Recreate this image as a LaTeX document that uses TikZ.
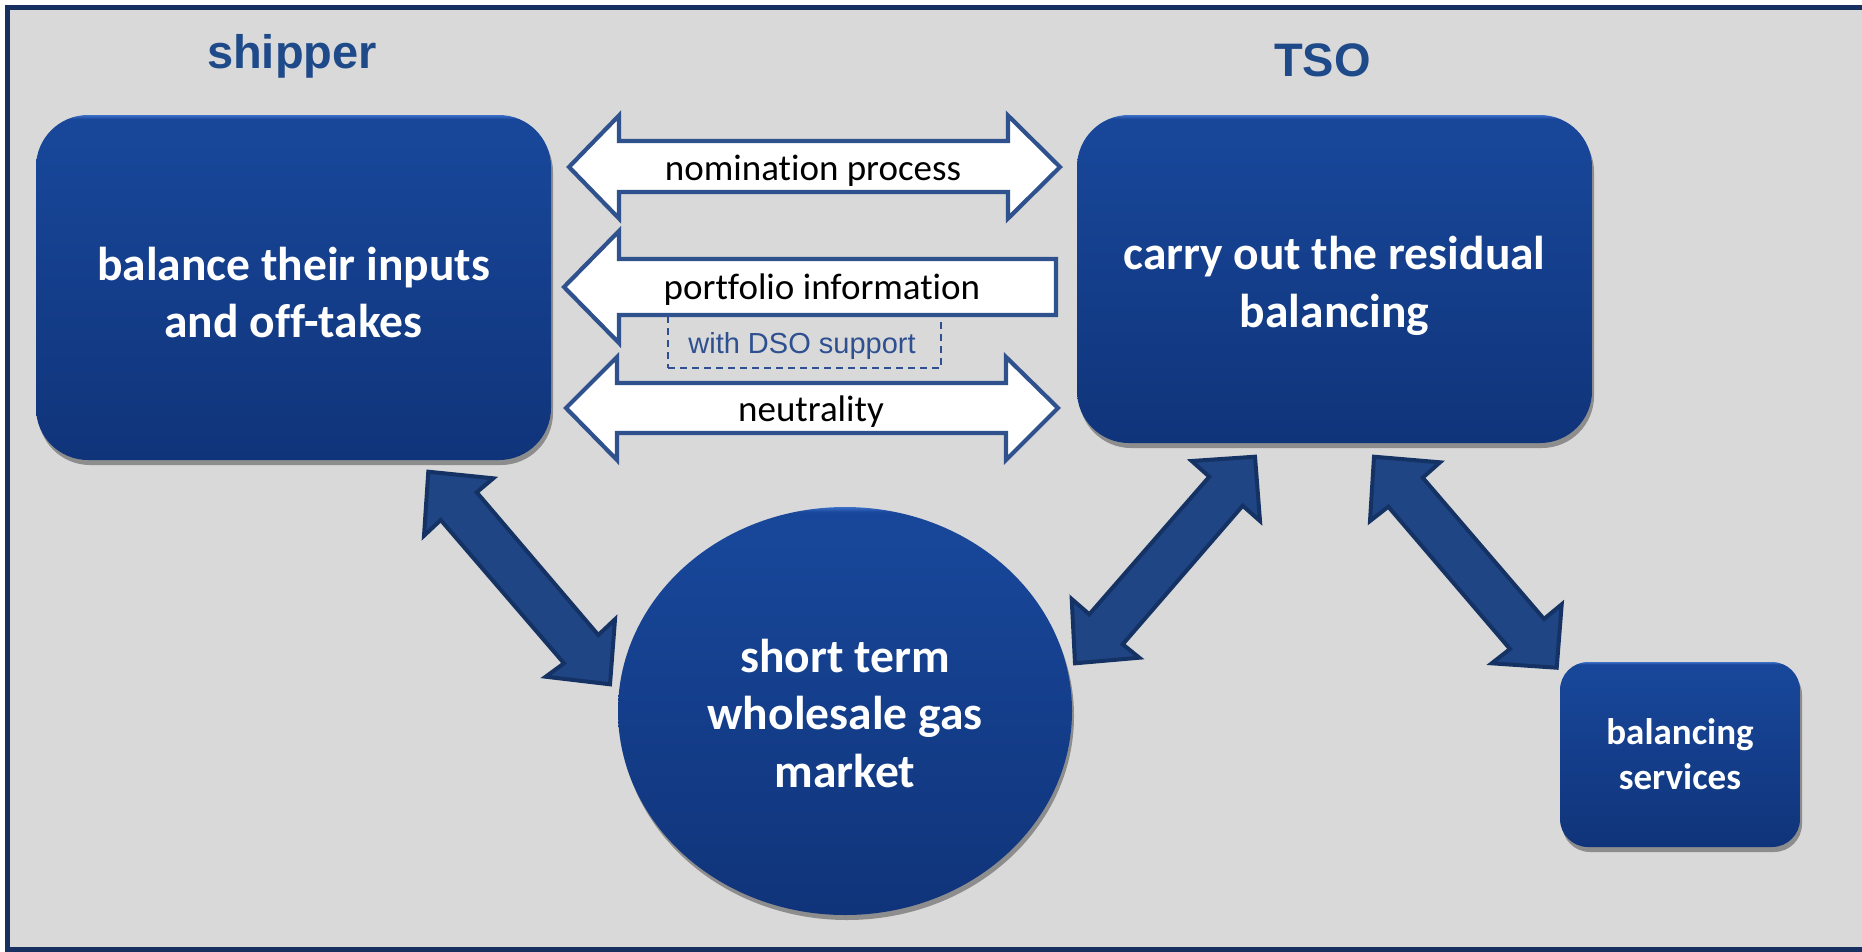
\documentclass[tikz,border=0pt]{standalone}
\usepackage{fontspec}
\setmainfont{Carlito}[Ligatures=NoCommon]
\newfontfamily\arialfont{Liberation Sans}
\usetikzlibrary{shapes.geometric,shadows}
\definecolor{bggray}{HTML}{D9D9D9}
\definecolor{framecol}{HTML}{17305F}
\definecolor{titleblue}{HTML}{1F4A8A}
\definecolor{boxtop}{HTML}{18479A}
\definecolor{boxbot}{HTML}{10347A}
\definecolor{boxhi}{HTML}{3C6FC8}
\definecolor{arrowfill}{HTML}{1F4585}
\definecolor{arrowline}{HTML}{153264}
\definecolor{wline}{HTML}{2F528F}
\definecolor{dsocol}{HTML}{2E5090}
\pgfdeclareverticalshading{boxshade}{100bp}{color(0bp)=(boxbot); color(25bp)=(boxbot); color(73bp)=(boxtop); color(74.4bp)=(boxtop); color(75bp)=(boxhi); color(100bp)=(boxhi)}
\tikzset{
  bluebox/.style={rounded corners=52, shading=boxshade, inner sep=0,
    drop shadow={shadow xshift=2pt, shadow yshift=-5pt, opacity=0.35, fill=black}},
  smallbox/.style={bluebox, rounded corners=28},
  market/.style={ellipse, shading=boxshade, inner sep=0,
    drop shadow={shadow xshift=2pt, shadow yshift=-5pt, opacity=0.35, fill=black}},
  boxtext/.style={text=white, align=center, inner sep=0, font=\bfseries\fontsize{47.5}{57.5}\selectfont},
  smalltext/.style={boxtext, font=\bfseries\fontsize{37}{45}\selectfont},
  titlelbl/.style={text=titleblue, font=\arialfont\bfseries\fontsize{47}{56}\selectfont, inner sep=0},
  arrowlbl/.style={text=black, font=\fontsize{37}{44}\selectfont, inner sep=0},
  whitearrow/.style={draw=wline, fill=white, line width=4.2, line join=miter},
  bluearrow/.style={draw=arrowline, fill=arrowfill, line width=4, line join=miter},
  dsobox/.style={draw=dsocol, line width=1.5, dash pattern=on 7pt off 5pt, inner sep=0},
  dsotext/.style={text=dsocol, font=\arialfont\fontsize{29}{35}\selectfont, inner sep=0},
}
\begin{document}
\begin{tikzpicture}[x=1pt,y=-1pt]
\useasboundingbox (0,0) rectangle (1862,951);
\clip (0,0) rectangle (1862,951);
\fill[white] (0,0) rectangle (1862,951);
\draw[framecol, line width=5, fill=bggray] (7,7) rectangle (1880,949.5);

% titles
\node[titlelbl, anchor=base] (shipperlbl) at (292,68) {shipper};
\node[titlelbl, anchor=base] (tsolbl) at (1322.5,76.7) {TSO};

% main nodes
\node[bluebox, minimum width=515, minimum height=345] (ship) at (293.5,287.5) {};
\node[boxtext] (shiptxt) at ([yshift=-5pt]ship.center) {balance their inputs\\and off-takes};
\node[bluebox, minimum width=515, minimum height=328] (tso) at (1334.5,279) {};
\node[boxtext] (tsotxt) at ([yshift=-7pt]tso.center) {carry out the residual\\balancing};
\node[market, minimum width=454, minimum height=408] (mkt) at (845,711) {};
\node[boxtext] (mkttxt) at ([yshift=-2pt]mkt.center) {short term\\wholesale gas\\market};
\node[smallbox, minimum width=240, minimum height=185] (bal) at (1680,754.5) {};
\node[smalltext] (baltxt) at (bal.center) {balancing\\services};

% dashed DSO box (under the portfolio arrow)
\node[dsobox, minimum width=273, minimum height=53] (dso) at (804.5,341.5) {};
\node[dsotext, anchor=base] (dsotxt) at (802,353) {with DSO support};

% nomination process (double)
\draw[whitearrow] (569,167) -- (619,115.5) -- (619,141) -- (1008,141) -- (1008,115.5) -- (1060,167)
  -- (1008,218.5) -- (1008,192) -- (619,192) -- (619,218.5) -- cycle;
\node[arrowlbl, anchor=base] (nomlbl) at (813,180.5) {nomination process};

% portfolio information (left)
\draw[whitearrow] (564,287) -- (619,231) -- (619,259) -- (1056,259) -- (1056,315)
  -- (619,315) -- (619,343) -- cycle;
\node[arrowlbl, anchor=base] (portlbl) at (822,299) {portfolio information};

% neutrality (double)
\draw[whitearrow] (566,408) -- (617,357) -- (617,383) -- (1006,383) -- (1006,357) -- (1058,408)
  -- (1006,460) -- (1006,433) -- (617,433) -- (617,460) -- cycle;
\node[arrowlbl, anchor=base] (neutlbl) at (811,421) {neutrality};

% shipper <-> market
\draw[bluearrow] (428.3,471.7) -- (493.3,478.3) -- (476.7,492.3) -- (598.3,635) -- (615,619.3)
  -- (610,684.3) -- (545.7,676.7) -- (564,663.3) -- (440.7,520) -- (424,535.7) -- cycle;
% TSO <-> market
\draw[bluearrow] (1255,456.7) -- (1260,521) -- (1242.7,505.7) -- (1122.7,644.3) -- (1139.3,657.7)
  -- (1075,663.3) -- (1071.7,599) -- (1089.3,614.3) -- (1209.3,476.7) -- (1191.7,461) -- cycle;
% TSO <-> balancing services
\draw[bluearrow] (1374,456.7) -- (1440,462.3) -- (1422.7,477.7) -- (1544,619) -- (1561.7,604.3)
  -- (1556.7,667.7) -- (1491.7,663.3) -- (1510,649) -- (1388.3,506.7) -- (1370,521) -- cycle;
\end{tikzpicture}
\end{document}
